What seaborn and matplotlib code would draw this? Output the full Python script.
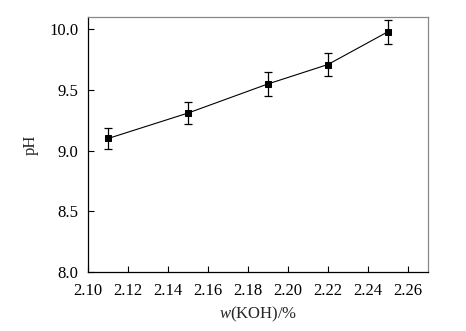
import matplotlib
matplotlib.use("Agg")
import matplotlib.pyplot as plt
import seaborn as sns
import pandas as pd

koh = [2.11, 2.15, 2.19, 2.22, 2.25]
ph = [9.10, 9.31, 9.55, 9.71, 9.98]
ph_err = [0.09, 0.09, 0.10, 0.095, 0.10]
x_ticks = [2.10, 2.12, 2.14, 2.16, 2.18, 2.20, 2.22, 2.24, 2.26]
y_ticks = [8.0, 8.5, 9.0, 9.5, 10.0]

sns.set_theme(style="white")
plt.rcParams['font.family'] = ['Liberation Serif', 'DejaVu Serif']
plt.rcParams['mathtext.fontset'] = 'custom'
plt.rcParams['mathtext.it'] = 'Liberation Serif:italic'
plt.rcParams['mathtext.rm'] = 'Liberation Serif'

df = pd.DataFrame({"koh": koh, "ph": ph})

fig = plt.figure(figsize=(4.66, 3.31), dpi=100)
ax = fig.add_axes([88.3/466, 1 - 271.7/331, (427.7-88.3)/466, (271.7-17.3)/331])

ax.errorbar(koh, ph, yerr=ph_err, fmt='none', ecolor='black', elinewidth=0.9,
            capsize=2.6, capthick=0.9, zorder=2)
sns.lineplot(data=df, x="koh", y="ph", ax=ax, color='black', linewidth=0.8,
             marker='s', markersize=5, markeredgecolor='black',
             markerfacecolor='black', zorder=3)

ax.set_xlim(2.10, 2.27)
ax.set_ylim(8.0, 10.1)
ax.set_xticks(x_ticks)
ax.set_xticklabels([f"{t:.2f}" for t in x_ticks])
ax.set_yticks(y_ticks)
ax.set_yticklabels([f"{t:.1f}" for t in y_ticks])
ax.tick_params(direction='in', length=4, width=0.8, colors='black',
               labelsize=12, top=False, right=False, bottom=True, left=True)
ax.tick_params(axis='x', pad=8)
ax.tick_params(axis='y', pad=7)
ax.set_xlabel(r"$w$(KOH)/%", fontsize=12, labelpad=4)
ax.set_ylabel("pH", fontsize=12, labelpad=8)

for side in ['left', 'bottom']:
    ax.spines[side].set_color('black')
    ax.spines[side].set_linewidth(0.9)
for side in ['top', 'right']:
    ax.spines[side].set_color('#888888')
    ax.spines[side].set_linewidth(0.9)
ax.grid(False)

fig.savefig("out.png", dpi=100)
